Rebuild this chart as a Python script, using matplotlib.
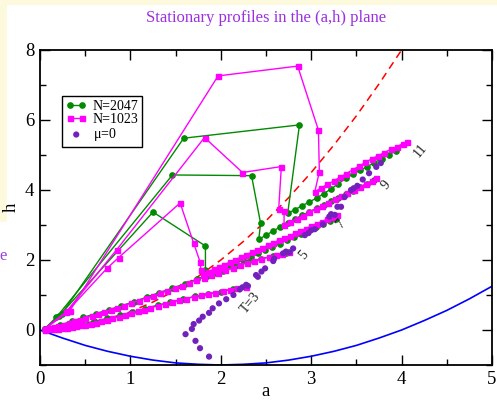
import matplotlib
matplotlib.use("Agg")
import matplotlib.pyplot as plt
from matplotlib.patches import Rectangle

bound_a = [0, 0.25, 0.5, 0.75, 1.0, 1.25, 1.5, 1.75, 2.0, 2.25, 2.5, 2.75, 3.0,
           3.25, 3.5, 3.75, 4.0, 4.25, 4.5, 4.75, 5.0]
bound_h = [0, -0.23, -0.44, -0.61, -0.75, -0.86, -0.94, -0.98, -1.0, -0.98, -0.94,
           -0.86, -0.75, -0.61, -0.44, -0.23, 0, 0.27, 0.56, 0.89, 1.25]

# dashed reference curve
ref_a = [0.13, 0.5, 0.75, 1.0, 1.25, 1.5, 1.75, 2.0, 2.25, 2.5, 2.75, 3.0, 3.25, 3.5, 3.75, 4.0]
ref_h = [0.0, 0.14, 0.3, 0.52, 0.8, 1.13, 1.53, 2.0, 2.53, 3.12, 3.78, 4.5, 5.28, 6.12, 7.03, 8.0]

# N=2047 profiles, T = 3, 5, 7, 9, 11
g3_a = [0.08, 0.2, 0.33, 0.46, 0.6, 0.74, 0.88, 1.02, 1.16, 1.3, 1.44, 1.58, 1.72, 1.86, 2.0, 2.14, 2.28]
g3_h = [0.02, 0.06, 0.11, 0.17, 0.25, 0.33, 0.42, 0.51, 0.61, 0.71, 0.79, 0.88, 0.96, 1.03, 1.1, 1.17, 1.24]
g5_a = [0.1, 0.22, 0.35, 0.48, 0.62, 0.76, 0.9, 1.04, 1.18, 1.32, 1.46, 1.6, 1.74, 1.88, 2.02,
        2.16, 2.3, 2.44, 2.58, 2.72]
g5_h = [0.06, 0.14, 0.25, 0.36, 0.47, 0.58, 0.69, 0.81, 0.94, 1.07, 1.19, 1.32, 1.46, 1.58, 1.7,
        1.82, 1.93, 2.03, 2.12, 2.2]
g7_a = [0.05, 0.21, 1.25, 1.83, 1.83, 1.85, 1.93, 2.01, 2.09, 2.17, 2.25, 2.33, 2.41, 2.49, 2.57,
        2.65, 2.73, 2.81, 2.89, 2.97, 3.05, 3.13, 3.21, 3.27]
g7_h = [0.03, 0.40, 3.37, 2.40, 1.72, 1.55, 1.64, 1.73, 1.82, 1.92, 2.01, 2.10, 2.19, 2.29, 2.38,
        2.47, 2.56, 2.65, 2.75, 2.84, 2.93, 3.02, 3.12, 3.18]
g9_a = [0.05, 0.18, 1.465, 2.34, 2.44, 2.42, 2.50, 2.58, 2.66, 2.74, 2.82, 2.90, 2.98, 3.06, 3.14,
        3.22, 3.30, 3.38, 3.46, 3.54, 3.62, 3.70]
g9_h = [0.03, 0.36, 4.43, 4.41, 3.05, 2.59, 2.71, 2.83, 2.95, 3.06, 3.17, 3.28, 3.38, 3.48, 3.58,
        3.68, 3.78, 3.88, 3.98, 4.08, 4.18, 4.28]
g11_a = [0.05, 0.24, 1.59, 2.87, 2.74, 2.82, 2.90, 2.98, 3.06, 3.14, 3.22, 3.30, 3.38, 3.46, 3.54,
         3.62, 3.70, 3.78, 3.86, 3.94]
g11_h = [0.03, 0.46, 5.48, 5.86, 3.33, 3.44, 3.55, 3.66, 3.77, 3.90, 4.03, 4.18, 4.33, 4.45, 4.56,
         4.67, 4.78, 4.90, 5.01, 5.12]

# N=1023 profiles
m3_a = [0.05, 0.1, 0.15, 0.2, 0.25, 0.3, 0.35, 0.4, 0.45, 0.5, 0.56, 0.62, 0.68, 0.74, 0.8, 0.87,
        0.94, 1.01, 1.08, 1.15, 1.22, 1.3, 1.38, 1.46, 1.54, 1.62, 1.7, 1.78, 1.86, 1.94, 2.02,
        2.1, 2.18, 2.28]
m3_h = [0.01, 0.02, 0.03, 0.04, 0.06, 0.07, 0.09, 0.11, 0.13, 0.15, 0.18, 0.21, 0.25, 0.29, 0.33,
        0.38, 0.43, 0.48, 0.53, 0.58, 0.63, 0.69, 0.75, 0.8, 0.85, 0.9, 0.95, 0.99, 1.03, 1.07,
        1.11, 1.15, 1.19, 1.24]
m5_a = [0.05, 0.1, 0.15, 0.2, 0.26, 0.32, 0.38, 0.44, 0.5, 0.57, 0.64, 0.71, 0.78, 0.85, 0.93,
        1.01, 1.09, 1.17, 1.25, 1.33, 1.41, 1.49, 1.57, 1.65, 1.73, 1.81, 1.89, 1.97, 2.05, 2.13,
        2.21, 2.29, 2.37, 2.45, 2.53, 2.61, 2.68, 2.75]
m5_h = [0.02, 0.05, 0.08, 0.11, 0.15, 0.2, 0.25, 0.3, 0.35, 0.4, 0.46, 0.51, 0.57, 0.63, 0.7,
        0.77, 0.84, 0.91, 0.98, 1.05, 1.12, 1.19, 1.27, 1.35, 1.43, 1.5, 1.57, 1.64, 1.71, 1.78,
        1.85, 1.92, 1.98, 2.03, 2.08, 2.13, 2.18, 2.22]
m7_a = [0.05, 0.30, 0.74, 0.87, 1.55, 1.70, 1.77, 1.78, 1.80, 1.86, 1.92, 1.98, 2.04, 2.10, 2.16,
        2.22, 2.28, 2.34, 2.40, 2.46, 2.52, 2.58, 2.64, 2.70, 2.76, 2.82, 2.88, 2.94, 3.00, 3.06,
        3.12, 3.18, 3.24, 3.29]
m7_h = [0.03, 0.53, 1.76, 2.07, 3.63, 2.48, 1.95, 1.71, 1.60, 1.67, 1.74, 1.81, 1.87, 1.94, 2.01,
        2.08, 2.15, 2.22, 2.28, 2.35, 2.42, 2.49, 2.56, 2.63, 2.69, 2.76, 2.83, 2.90, 2.97, 3.04,
        3.10, 3.17, 3.24, 3.30]
m9_a = [0.05, 0.29, 0.85, 1.82, 2.24, 2.67, 2.64, 2.70, 2.70, 2.77, 2.84, 2.91, 2.98, 3.05, 3.12,
        3.19, 3.26, 3.33, 3.40, 3.47, 3.54, 3.61, 3.67, 3.72]
m9_h = [0.03, 0.52, 2.30, 5.50, 4.50, 4.67, 3.45, 3.41, 3.00, 3.09, 3.18, 3.27, 3.36, 3.46, 3.55,
        3.64, 3.73, 3.82, 3.91, 4.00, 4.09, 4.18, 4.26, 4.33]
m11_a = [0.05, 0.33, 1.97, 2.85, 3.08, 3.09, 3.04, 3.11, 3.18, 3.25, 3.32, 3.39, 3.46, 3.53, 3.60,
         3.67, 3.74, 3.81, 3.88, 3.95, 4.01, 4.06]
m11_h = [0.03, 0.55, 7.26, 7.54, 5.71, 4.52, 3.95, 4.06, 4.16, 4.26, 4.37, 4.47, 4.58, 4.68, 4.79,
         4.89, 4.98, 5.07, 5.16, 5.24, 5.32, 5.38]

# mu=0 points near the end of each profile
mu_a = [1.87, 1.77, 1.72, 1.61, 1.68, 1.70, 1.76, 1.80, 1.87, 1.91, 1.98, 2.06, 2.14, 2.21, 2.24,
        2.28, 2.30,
        2.39, 2.41, 2.45, 2.49, 2.58, 2.59, 2.69, 2.72, 2.76, 2.80,
        2.93, 2.97, 3.00, 3.04, 3.13, 3.20, 3.22, 3.26, 3.29, 3.33,
        3.37, 3.44, 3.47, 3.51, 3.57, 3.64, 3.72, 3.77]
mu_h = [-0.76, -0.52, -0.31, -0.12, 0.03, 0.17, 0.27, 0.38, 0.49, 0.62, 0.76, 0.88, 1.0, 1.16, 1.22,
        1.29, 1.26,
        1.57, 1.52, 1.67, 1.76, 1.97, 2.04, 2.19, 2.24, 2.22, 2.33,
        2.71, 2.77, 2.85, 2.88, 3.02, 3.24, 3.31, 3.29, 3.52, 3.52,
        3.80, 4.00, 4.05, 4.12, 4.30, 4.48, 4.66, 4.77]

T_labels = ["T=3", "5", "7", "9", "11"]
T_label_a = [2.33, 2.92, 3.33, 3.83, 4.21]
T_label_h = [0.77, 2.14, 3.02, 4.15, 5.14]

GREEN = "#008b00"
MAGENTA = "#ff00ff"
INDIGO = "#7221bc"
serif = ["Liberation Serif", "DejaVu Serif"]
plt.rcParams["font.family"] = serif
plt.rcParams["mathtext.fontset"] = "stix"

fig = plt.figure(figsize=(4.97, 4.0), dpi=100)
fig.patches.append(Rectangle((0, 395 / 400), 1, 5 / 400, transform=fig.transFigure,
                             facecolor="#fdf9dc", edgecolor="none", zorder=-5))
fig.patches.append(Rectangle((0, 1 - 222 / 400), 7 / 497, 222 / 400, transform=fig.transFigure,
                             facecolor="#fdf9dc", edgecolor="none", zorder=-5))

ax = fig.add_axes([40 / 497, 35 / 400, 452 / 497, 315 / 400])

ax.plot(bound_a, bound_h, color="#0000ff", lw=1.2, zorder=2)
ax.plot(ref_a, ref_h, color="#ff0000", lw=1.1, dashes=(5, 3.5), zorder=2)

gkw = dict(color=GREEN, lw=1.0, marker="o", ms=3.8, zorder=3)
mkw = dict(color=MAGENTA, lw=1.0, marker="s", ms=3.6, zorder=4)
for i, (a, h) in enumerate([(g3_a, g3_h), (g5_a, g5_h), (g7_a, g7_h), (g9_a, g9_h), (g11_a, g11_h)]):
    ax.plot(a, h, label="N=2047" if i == 0 else None, **gkw)
for i, (a, h) in enumerate([(m3_a, m3_h), (m5_a, m5_h), (m7_a, m7_h), (m9_a, m9_h), (m11_a, m11_h)]):
    ax.plot(a, h, label="N=1023" if i == 0 else None, **mkw)
ax.scatter(mu_a, mu_h, s=20, color=INDIGO, edgecolors="none", zorder=5, label=r"$\mathregular{\mu}$=0")

for lab, x, y in zip(T_labels, T_label_a, T_label_h):
    ax.text(x, y, lab, rotation=50, fontsize=10, ha="center", va="center", color="#222222", zorder=6)

ax.set_xlim(0, 5)
ax.set_ylim(-1, 8)
ax.set_xticks([0, 1, 2, 3, 4, 5])
ax.set_xticks([0.5, 1.5, 2.5, 3.5, 4.5], minor=True)
ax.set_yticks([0, 2, 4, 6, 8])
ax.set_yticks([-1, 1, 3, 5, 7], minor=True)
ax.tick_params(which="both", direction="in", top=True, right=True, labelsize=13.5, pad=4)
ax.tick_params(which="major", length=7, width=1.0)
ax.tick_params(which="minor", length=4, width=1.0)
for s in ax.spines.values():
    s.set_linewidth(1.3)

ax.set_xlabel("a", fontsize=13.5, labelpad=-3)
ax.set_ylabel("h", fontsize=13.5, labelpad=4)

leg = ax.legend(loc="upper left", bbox_to_anchor=(22 / 452, (365 - 96) / 315), borderaxespad=0,
                fontsize=10, frameon=True, fancybox=False, edgecolor="black", framealpha=1,
                numpoints=2, scatterpoints=1, handlelength=1.45, handletextpad=0.45,
                labelspacing=0.0, borderpad=0.3)
leg.get_frame().set_linewidth(1.0)

fig.text(266 / 497, 1 - 18 / 400, "Stationary profiles in the (a,h) plane", ha="center", va="center",
         fontsize=12, color="#9b30e0")
fig.text(-1 / 497, 1 - 256 / 400, "e", ha="left", va="center", fontsize=12, color="#9b40e0")

fig.savefig("out.png", dpi=100)
